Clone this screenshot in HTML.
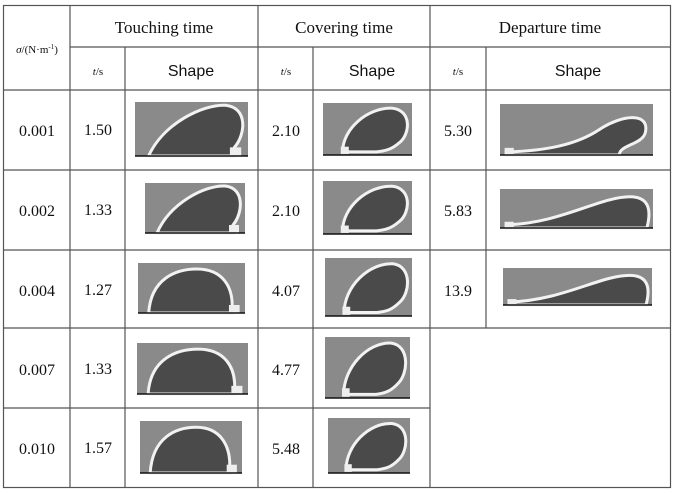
<!DOCTYPE html>
<html><head><meta charset="utf-8"><style>
html,body{margin:0;padding:0;background:#fff;}
svg{display:block}
.s{font-family:"Liberation Serif",serif;fill:#111}
.a{font-family:"Liberation Sans",sans-serif;fill:#111}
</style></head><body>
<svg width="674" height="493" viewBox="0 0 674 493" xmlns="http://www.w3.org/2000/svg">
<defs>
<g id="touch">
<rect x="0" y="0" width="100" height="50" fill="#8a8a8a"/>
<path d="M10,50 C12,16 35,6 55,6 C80,6 88,25 88,42 L88,50 Z" fill="#4a4a4a" stroke="#f2f2f2" stroke-width="3" vector-effect="non-scaling-stroke"/>
<rect x="85" y="42" width="10" height="8" fill="#eee"/>
<line x1="0" y1="50" x2="100" y2="50" stroke="#111" stroke-width="1.5" vector-effect="non-scaling-stroke"/>
</g>
<g id="touch1">
<rect x="0" y="0" width="100" height="50" fill="#8a8a8a"/>
<path d="M12,50 C25,20 60,2 80,3 C100,5 98,30 88,42 L88,50 Z" fill="#4a4a4a" stroke="#f2f2f2" stroke-width="3" vector-effect="non-scaling-stroke"/>
<rect x="84" y="42" width="10" height="8" fill="#eee"/>
<line x1="0" y1="50" x2="100" y2="50" stroke="#111" stroke-width="1.5" vector-effect="non-scaling-stroke"/>
</g>
<g id="cover">
<rect x="0" y="0" width="100" height="50" fill="#8a8a8a"/>
<path d="M22,47 C22,25 50,4 78,5 C100,7 98,30 86,38 C78,44 72,46 60,47 Z" fill="#4a4a4a" stroke="#f2f2f2" stroke-width="3" vector-effect="non-scaling-stroke"/>
<rect x="20" y="42" width="9" height="7" fill="#eee"/>
<line x1="0" y1="50" x2="100" y2="50" stroke="#111" stroke-width="1.5" vector-effect="non-scaling-stroke"/>
</g>
<g id="dep">
<rect x="0" y="0" width="100" height="50" fill="#8a8a8a"/>
<path d="M4,47 C30,46 50,40 65,25 C80,10 98,8 95,28 C93,40 78,40 78,50 L4,50 Z" fill="#4a4a4a" stroke="#f2f2f2" stroke-width="3" vector-effect="non-scaling-stroke"/>
<rect x="3" y="43" width="6" height="6" fill="#eee"/>
<line x1="0" y1="50" x2="100" y2="50" stroke="#111" stroke-width="1.5" vector-effect="non-scaling-stroke"/>
</g>
<g id="dep2">
<rect x="0" y="0" width="100" height="50" fill="#8a8a8a"/>
<path d="M4,46 C40,44 65,10 85,10 C100,10 98,35 96,50 L4,50 Z" fill="#4a4a4a" stroke="#f2f2f2" stroke-width="3" vector-effect="non-scaling-stroke"/>
<rect x="3" y="42" width="6" height="7" fill="#eee"/>
<line x1="0" y1="50" x2="100" y2="50" stroke="#111" stroke-width="1.5" vector-effect="non-scaling-stroke"/>
</g>
</defs>

<g stroke="#555" stroke-width="1.2" fill="none">
<rect x="3.5" y="5.5" width="667" height="482"/>
<line x1="70" y1="5" x2="70" y2="487"/>
<line x1="258" y1="5" x2="258" y2="487"/>
<line x1="430" y1="5" x2="430" y2="487"/>
<line x1="125" y1="47" x2="125" y2="487"/>
<line x1="313" y1="47" x2="313" y2="487"/>
<line x1="486" y1="47" x2="486" y2="328"/>
<line x1="70" y1="47" x2="671" y2="47"/>
<line x1="3" y1="90" x2="671" y2="90"/>
<line x1="3" y1="170" x2="671" y2="170"/>
<line x1="3" y1="250" x2="671" y2="250"/>
<line x1="3" y1="328" x2="671" y2="328"/>
<line x1="3" y1="408" x2="430" y2="408"/>
</g>

<text class="s" x="164" y="33" font-size="17" text-anchor="middle">Touching time</text>
<text class="s" x="344" y="33" font-size="17" text-anchor="middle">Covering time</text>
<text class="s" x="550" y="33" font-size="17" text-anchor="middle">Departure time</text>
<text class="s" x="37" y="53" font-size="11" text-anchor="middle"><tspan font-style="italic">σ</tspan>/(N·m<tspan font-size="7" dy="-4">-1</tspan><tspan dy="4">)</tspan></text>
<text class="s" x="98" y="75" font-size="11" text-anchor="middle"><tspan font-style="italic">t</tspan>/s</text>
<text class="s" x="286" y="75" font-size="11" text-anchor="middle"><tspan font-style="italic">t</tspan>/s</text>
<text class="s" x="458" y="75" font-size="11" text-anchor="middle"><tspan font-style="italic">t</tspan>/s</text>
<text class="a" x="191" y="76" font-size="16" text-anchor="middle">Shape</text>
<text class="a" x="372" y="76" font-size="16" text-anchor="middle">Shape</text>
<text class="a" x="578" y="76" font-size="16" text-anchor="middle">Shape</text>

<g class="s" font-size="16" text-anchor="middle">
<text x="37" y="136">0.001</text><text x="98" y="135">1.50</text><text x="286" y="136">2.10</text><text x="458" y="136">5.30</text>
<text x="37" y="216">0.002</text><text x="98" y="215">1.33</text><text x="286" y="216">2.10</text><text x="458" y="216">5.83</text>
<text x="37" y="296">0.004</text><text x="98" y="295">1.27</text><text x="286" y="296">4.07</text><text x="458" y="296">13.9</text>
<text x="37" y="375">0.007</text><text x="98" y="374">1.33</text><text x="286" y="375">4.77</text>
<text x="37" y="454">0.010</text><text x="98" y="453">1.57</text><text x="286" y="454">5.48</text>
</g>

<use href="#touch1" transform="translate(135,102) scale(1.13,1.08)"/>
<use href="#touch1" transform="translate(145,183) scale(1.0,1.0)"/>
<use href="#touch" transform="translate(138,263) scale(1.07,1.0)"/>
<use href="#touch" transform="translate(137,343) scale(1.11,1.02)"/>
<use href="#touch" transform="translate(140,421) scale(1.02,1.04)"/>

<use href="#cover" transform="translate(323,103) scale(0.89,1.04)"/>
<use href="#cover" transform="translate(323,181) scale(0.89,1.06)"/>
<use href="#cover" transform="translate(325,258) scale(0.87,1.16)"/>
<use href="#cover" transform="translate(325,337) scale(0.85,1.22)"/>
<use href="#cover" transform="translate(328,418) scale(0.82,1.1)"/>

<use href="#dep" transform="translate(500,104) scale(1.53,1.02)"/>
<use href="#dep2" transform="translate(500,189) scale(1.53,0.78)"/>
<use href="#dep2" transform="translate(503,268) scale(1.49,0.74)"/>
</svg>
</body></html>
